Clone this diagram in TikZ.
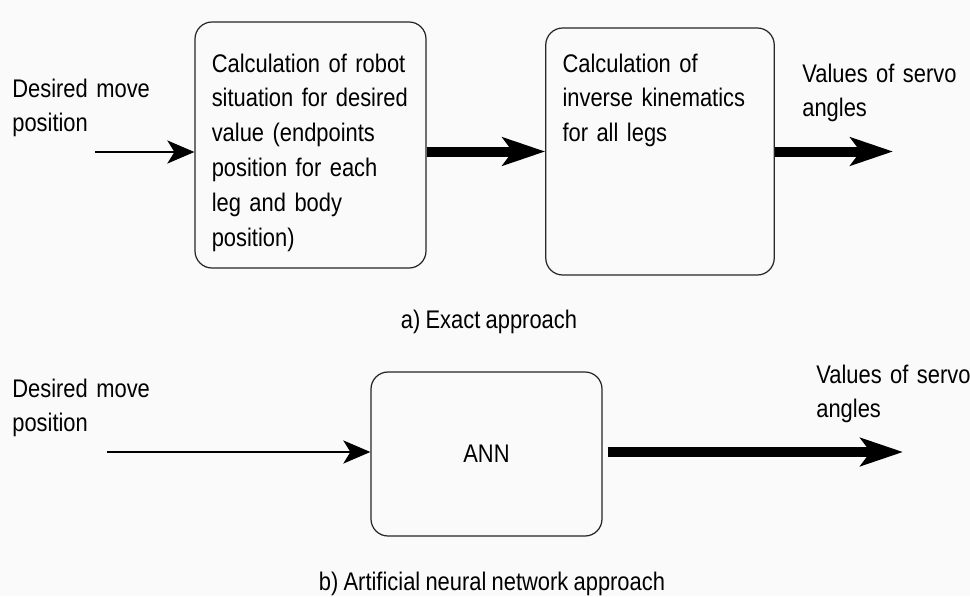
\documentclass[tikz,border=0pt]{standalone}
\usepackage{fontspec}
\setmainfont{Liberation Sans}[FakeStretch=0.86, WordSpace=0.86]
\usetikzlibrary{shapes,arrows.meta}

\begin{document}
\begin{tikzpicture}[
    font = \fontsize{14.5}{19.9}\selectfont,
    blk/.style = {draw=black!85, line width=0.7pt, rounded corners=0.34cm, inner xsep=0.335cm, inner ysep=0pt, align=left},
    lbl/.style = {inner sep=0pt, anchor=base west, align=left, text width=3.4cm},
    capt/.style = {inner sep=0pt, anchor=base},
    thinarr/.style = {line width=1.5pt, -{Stealth[length=0.54cm, width=0.46cm, inset=0.14cm]}},
    fatarr/.style = {line width=0.2cm, -{Stealth[length=0.85cm, width=0.56cm, inset=0.2cm]}},
  ]%
    \fill [black!2] (0,0) rectangle (19.4,-11.92);
    \useasboundingbox (0,0) rectangle (19.4,-11.92);
    % a) exact approach
    \draw node [lbl] (in1) at (0.24,-1.94) {Desired move\\position};
    \draw node [blk, text width=3.95cm, text height=1.0cm, text depth=3.92cm] (exact) at (6.21,-2.9) {Calculation of robot\\situation for desired\\value (endpoints\\position for each\\leg and body\\position)};
    \draw node [blk, text width=3.9cm, text height=0.88cm, text depth=4.06cm] (invkin) at (13.2,-3.03) {Calculation of\\inverse kinematics\\for all legs};
    \draw node [lbl] (out1) at (16.04,-1.64) {Values of servo\\angles};
    \draw node [capt] (capa) at (9.78,-6.56) {a) Exact approach};
    \coordinate (s1) at (1.9,-3.04);
    \coordinate (e1) at (17.86,-3.0);
    \draw [thinarr] (s1) -- (s1 -| exact.west);
    \draw [fatarr] (exact.east |- invkin.west) -- (invkin.west);
    \draw [fatarr] (invkin.east) -- (invkin.east -| e1);
    % b) neural network
    \draw node [lbl] (in2) at (0.24,-7.94) {Desired move\\position};
    \draw node [blk, minimum width=4.62cm, minimum height=3.28cm, align=center] (ann) at (9.73,-9.08) {ANN};
    \draw node [lbl] (out2) at (16.32,-7.66) {Values of servo\\angles};
    \draw node [capt] (capb) at (9.84,-11.8) {b) Artificial neural network approach};
    \coordinate (s2) at (2.14,-9.04);
    \coordinate (e2) at (18.06,-9.04);
    \draw [thinarr] (s2) -- (s2 -| ann.west);
    \draw [fatarr, shorten <=0.1cm] (ann.east |- e2) -- (e2);
    %\draw [help lines] (0,0) grid (19.4,-11.92);
  \end{tikzpicture}
\end{document}
